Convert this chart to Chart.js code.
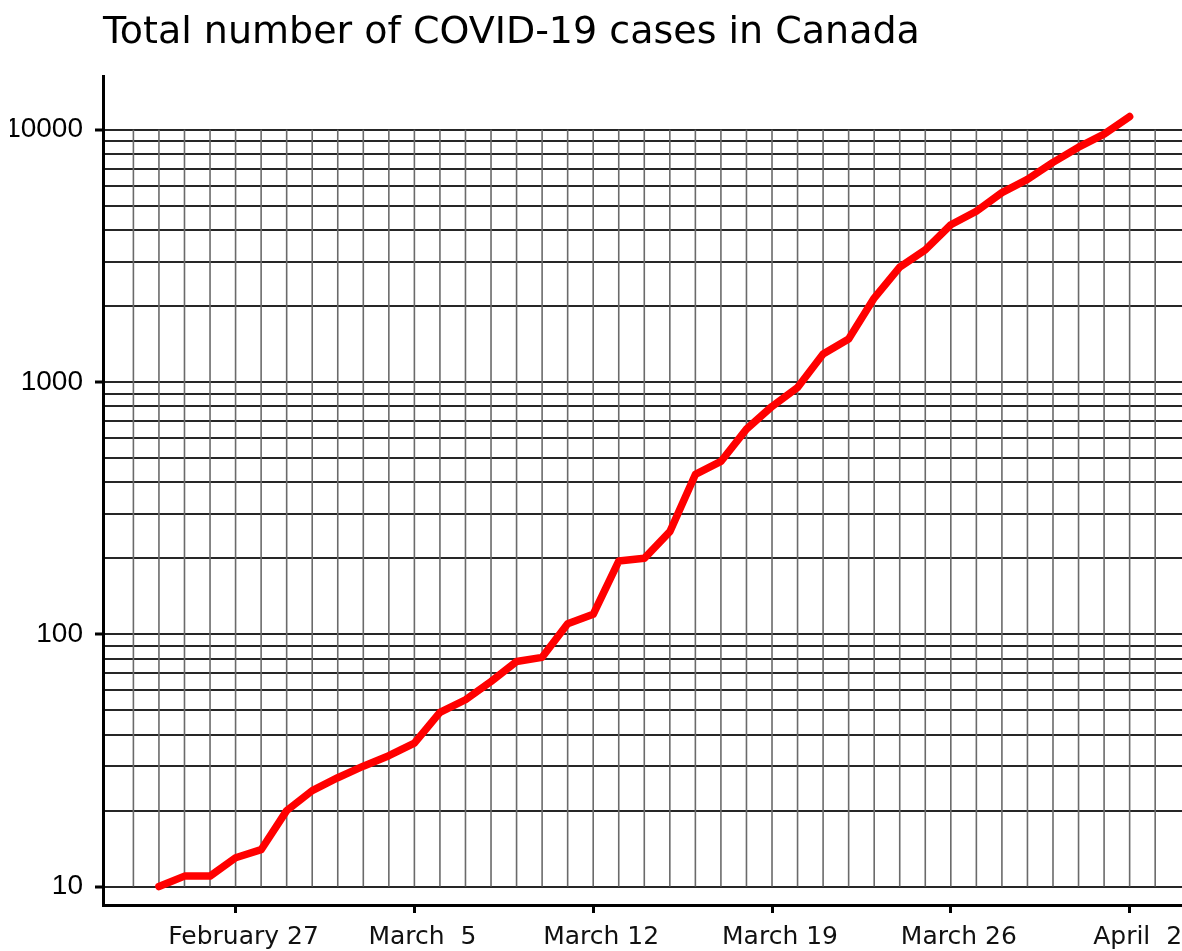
<!DOCTYPE html>
<html>
<head>
<meta charset="utf-8">
<title>Total number of COVID-19 cases in Canada</title>
<script src="https://cdn.jsdelivr.net/npm/chart.js@4.4.1/dist/chart.umd.min.js"></script>
<style>
  html, body { margin: 0; padding: 0; background: #fff; }
  #wrap { width: 1182px; height: 951px; }
</style>
</head>
<body>
<div id="wrap"><canvas id="chart"></canvas></div>
<script>
// daily cumulative cases
const dates = ['Feb 24', 'Feb 25', 'Feb 26', 'Feb 27', 'Feb 28', 'Feb 29',
  'Mar 1', 'Mar 2', 'Mar 3', 'Mar 4', 'Mar 5', 'Mar 6', 'Mar 7', 'Mar 8', 'Mar 9',
  'Mar 10', 'Mar 11', 'Mar 12', 'Mar 13', 'Mar 14', 'Mar 15', 'Mar 16', 'Mar 17',
  'Mar 18', 'Mar 19', 'Mar 20', 'Mar 21', 'Mar 22', 'Mar 23', 'Mar 24', 'Mar 25',
  'Mar 26', 'Mar 27', 'Mar 28', 'Mar 29', 'Mar 30', 'Mar 31', 'Apr 1', 'Apr 2'];
const cases = [10, 11, 11, 13, 14, 20,
  24, 27, 30, 33, 37, 49, 55, 65, 78,
  81, 110, 120, 195, 200, 255, 430, 484,
  650, 800, 950, 1290, 1480, 2150, 2850, 3340,
  4200, 4750, 5630, 6350, 7420, 8520, 9600, 11270];

const tickDates = ['Feb 27', 'Mar 5', 'Mar 12', 'Mar 19', 'Mar 26', 'Apr 2'];
const tickLabels = ['February 27', 'March  5', 'March 12', 'March 19', 'March 26', 'April  2'];

const yGridValues = [10, 20, 30, 40, 50, 60, 70, 80, 90,
  100, 200, 300, 400, 500, 600, 700, 800, 900,
  1000, 2000, 3000, 4000, 5000, 6000, 7000, 8000, 9000, 10000];
const yLabelValues = [10, 100, 1000, 10000];

const labelFont = 'DejaVu Sans';
const yFont = "'Liberation Sans', Arial, sans-serif";

function isTickDay(v) {
    return tickDates.indexOf(dates[v]) >= 0;
}

// vertical day lines only run between the 10 and 10000 grid lines
const dayGrid = {
    id: 'dayGrid',
    beforeDatasetsDraw(chart) {
        const { ctx, scales } = chart;
        const x = scales.x, y = scales.y;
        const top = y.getPixelForValue(yGridValues[yGridValues.length - 1]);
        const bottom = y.getPixelForValue(yGridValues[0]);
        ctx.save();
        ctx.strokeStyle = '#6a6a6a';
        ctx.lineWidth = 1.6;
        x.ticks.forEach(t => {
            const px = x.getPixelForValue(t.value);
            ctx.beginPath();
            ctx.moveTo(px, top);
            ctx.lineTo(px, bottom);
            ctx.stroke();
        });
        ctx.restore();
    }
};

new Chart(document.getElementById('chart'), {
    type: 'line',
    data: {
        datasets: [{
            data: dates.map((d, i) => ({ x: i, y: cases[i] })),
            borderColor: '#ff0000',
            borderWidth: 7.5,
            pointRadius: 0,
            tension: 0,
            fill: false,
            borderCapStyle: 'round',
            borderJoinStyle: 'round'
        }]
    },
    options: {
        responsive: true,
        maintainAspectRatio: false,
        animation: false,
        layout: { padding: { left: 10, right: 0, top: 0, bottom: 0 } },
        plugins: {
            legend: { display: false },
            tooltip: { enabled: false },
            title: {
                display: true,
                text: 'Total number of COVID-19 cases in Canada',
                align: 'start',
                fullSize: false,
                color: '#000',
                font: { family: labelFont, size: 38, weight: 'normal' },
                padding: { top: 10, bottom: 21 }
            }
        },
        scales: {
            x: {
                type: 'linear',
                min: -2.19,
                max: 40.05,
                afterBuildTicks: scale => {
                    scale.ticks = [];
                    for (let i = -1; i <= dates.length; i++) scale.ticks.push({ value: i });
                },
                afterFit: scale => { scale.height = 46; },
                ticks: {
                    autoSkip: false,
                    maxRotation: 0,
                    padding: 9,
                    labelOffset: 8,
                    color: '#111',
                    font: { family: labelFont, size: 25 },
                    callback: v => {
                        const k = tickDates.indexOf(dates[v]);
                        return k >= 0 ? tickLabels[k] : '';
                    }
                },
                grid: {
                    drawOnChartArea: false,
                    tickLength: 8,
                    tickWidth: 3,
                    tickColor: c => (c.tick && isTickDay(c.tick.value)) ? '#000' : 'rgba(0,0,0,0)'
                },
                border: { color: '#000', width: 3 }
            },
            y: {
                type: 'logarithmic',
                min: 8.45,
                max: 16230,
                afterBuildTicks: scale => {
                    scale.ticks = yGridValues.map(v => ({ value: v }));
                },
                afterFit: scale => { scale.width = 93; },
                ticks: {
                    autoSkip: false,
                    padding: 12,
                    color: '#000',
                    font: { family: yFont, size: 28 },
                    callback: v => yLabelValues.includes(v) ? String(v) : ''
                },
                grid: {
                    color: '#262626',
                    lineWidth: 2,
                    tickLength: 8,
                    tickWidth: 3,
                    tickColor: c => (c.tick && yLabelValues.includes(c.tick.value)) ? '#000' : 'rgba(0,0,0,0)'
                },
                border: { color: '#000', width: 3 }
            }
        }
    },
    plugins: [dayGrid]
});
</script>
</body>
</html>
